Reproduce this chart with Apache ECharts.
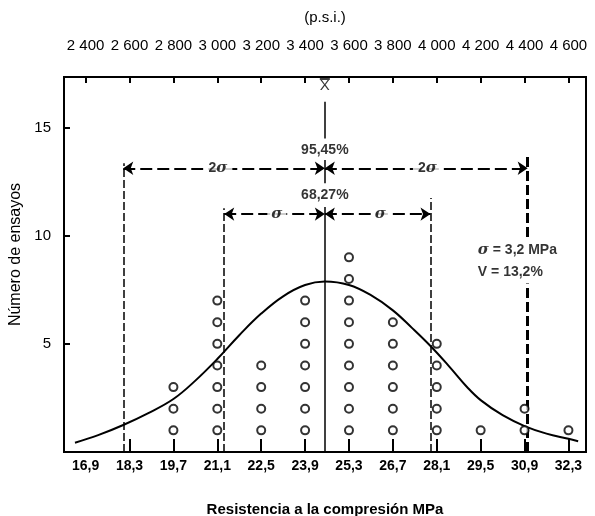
<!DOCTYPE html>
<html><head><meta charset="utf-8">
<script src="https://cdn.jsdelivr.net/npm/echarts@6/dist/echarts.min.js"></script>
<style>html,body{margin:0;padding:0;background:#fff}#c{width:595px;height:516px}</style>
</head><body><div id="c"></div>
<script>
// ---- data ----
const mpaTicks = [16.9, 18.3, 19.7, 21.1, 22.5, 23.9, 25.3, 26.7, 28.1, 29.5, 30.9, 32.3];
const mpaLabels = ['16,9','18,3','19,7','21,1','22,5','23,9','25,3','26,7','28,1','29,5','30,9','32,3'];
const mpaTickMarks = [18.3, 19.7, 21.1, 22.5, 23.9, 25.3, 26.7, 28.1, 29.5, 30.9, 32.3];
const psiTicks = [2400, 2600, 2800, 3000, 3200, 3400, 3600, 3800, 4000, 4200, 4400, 4600];
const psiLabels = ['2 400','2 600','2 800','3 000','3 200','3 400','3 600','3 800','4 000','4 200','4 400','4 600'];
const yTicks = [5, 10, 15];
const yLabels = ['5', '10', '15'];
const columnX = [19.7, 21.1, 22.5, 23.9, 25.3, 26.7, 28.1, 29.5, 30.9, 32.3];
const columnCounts = [3, 7, 4, 7, 9, 6, 5, 1, 2, 1];
const curveX = [16.56, 17.3, 18.1, 18.9, 19.7, 20.4, 21.1, 21.8, 22.5, 23.2, 23.9, 24.53, 25.3, 26.0, 26.7, 27.3, 27.9, 28.5, 29.1, 29.5, 30.2, 30.9, 31.6, 32.3, 32.61];
const curveY = [0.43, 0.78, 1.25, 1.8, 2.45, 3.3, 4.3, 5.4, 6.4, 7.2, 7.72, 7.88, 7.72, 7.25, 6.55, 5.75, 4.9, 3.95, 2.95, 2.4, 1.7, 1.2, 0.85, 0.61, 0.5];
const meanX = 24.53;
const sigmaLineX = [18.1, 21.32, 27.9, 31.0]; // -2s, -1s, +1s, +2s
const xMin = 16.21, xMax = 32.86, yMax = 17.34;

// ---- helpers ----
const psiOf = m => 2400 + (m - 16.9) * 200 / 1.4;
const lab = (vals, labels) => v => {
  let bi = 0; vals.forEach((t, i) => { if (Math.abs(t - v) < Math.abs(vals[bi] - v)) bi = i; });
  return labels[bi];
};
const FONT = 'Liberation Sans, Arial, Helvetica, sans-serif';

const circles = [];
columnX.forEach((x, i) => { for (let k = 1; k <= columnCounts[i]; k++) circles.push([x, k]); });
const curve = curveX.map((x, i) => [x, curveY[i]]);

const seg = (x1, y1, x2, y2, style) => [{coord: [x1, y1], lineStyle: style}, {coord: [x2, y2]}];
const SOLID = {type: 'solid', width: 1.5, color: '#000'};
const DASH_THIN = {type: [8, 3], width: 1.5, color: '#000'};
const DASH_THICK = {type: [10, 4], width: 3, color: '#000'};

const txt = (x, y, text, pos, pad) => ({
  value: [x, y],
  label: Object.assign({show: true, position: pos || 'inside', distance: 0, formatter: text},
    pad ? {backgroundColor: '#fff', padding: pad} : {})
});

const chart = echarts.init(document.getElementById('c'), null, {renderer: 'canvas'});
chart.setOption({
  animation: false,
  textStyle: {fontFamily: FONT, color: '#000'},
  grid: {left: 64, right: 9, top: 77, bottom: 64, show: true, borderColor: '#000', borderWidth: 2,
         containLabel: false, outerBoundsMode: 'none'},
  xAxis: [{
    type: 'value', min: xMin, max: xMax, position: 'bottom',
    axisLine: {show: true, lineStyle: {color: '#000', width: 2}},
    axisTick: {show: true, inside: true, length: 13, lineStyle: {color: '#000', width: 2}, customValues: mpaTickMarks},
    axisLabel: {customValues: mpaTicks, formatter: lab(mpaTicks, mpaLabels), margin: 7, fontSize: 14, fontWeight: 'bold', color: '#000', fontFamily: FONT},
    splitLine: {show: false},
    name: 'Resistencia a la compresión MPa', nameLocation: 'middle', nameGap: 50,
    nameTextStyle: {fontSize: 15, fontWeight: 'bold', color: '#000', fontFamily: FONT}
  }, {
    type: 'value', min: psiOf(xMin), max: psiOf(xMax), position: 'top',
    axisLine: {show: true, lineStyle: {color: '#000', width: 2}},
    axisTick: {show: true, inside: true, length: 6, lineStyle: {color: '#000', width: 2}, customValues: psiTicks},
    axisLabel: {customValues: psiTicks, formatter: lab(psiTicks, psiLabels), margin: 24, fontSize: 15, color: '#000', fontFamily: FONT},
    splitLine: {show: false},
    name: '(p.s.i.)', nameLocation: 'middle', nameGap: 52,
    nameTextStyle: {fontSize: 15, color: '#000', fontFamily: FONT}
  }],
  yAxis: {
    type: 'value', min: 0, max: yMax,
    axisLine: {show: true, lineStyle: {color: '#000', width: 2}},
    axisTick: {show: true, inside: true, length: 6, lineStyle: {color: '#000', width: 2}, customValues: yTicks},
    axisLabel: {customValues: yTicks, formatter: lab(yTicks, yLabels), margin: 13, fontSize: 15, color: '#000', fontFamily: FONT},
    splitLine: {show: false},
    name: 'Número de ensayos', nameLocation: 'middle', nameGap: 28, nameRotate: 90,
    nameTextStyle: {fontSize: 16, color: '#000', fontFamily: FONT, padding: [0, 0, 0, 20]}
  },
  series: [
    {
      name: 'curve', type: 'line', data: curve, smooth: 0.4, symbol: 'none',
      lineStyle: {color: '#000', width: 2}, z: 3,
      markLine: {
        silent: true, symbol: 'none', animation: false, label: {show: false},
        data: [
          seg(meanX, 0, meanX, 11.33, SOLID),
          seg(meanX, 12.43, meanX, 13.5, SOLID),
          seg(meanX, 14.5, meanX, 16.19, SOLID),
          seg(24.37, 17.27, 24.69, 17.27, SOLID),
          seg(sigmaLineX[0], 0, sigmaLineX[0], 13.35, DASH_THIN),
          seg(sigmaLineX[1], 0, sigmaLineX[1], 11.27, DASH_THIN),
          seg(sigmaLineX[2], 0, sigmaLineX[2], 11.74, DASH_THIN),
          seg(sigmaLineX[3], 0, sigmaLineX[3], 7.79, DASH_THICK),
          seg(sigmaLineX[3], 9.94, sigmaLineX[3], 13.65, DASH_THICK)
        ]
      }
    },
    {
      name: 'arrows', type: 'line', data: [], symbol: 'none',
      markLine: {
        silent: true, symbol: ['arrow', 'arrow'], symbolSize: 10, animation: false, label: {show: false},
        lineStyle: {type: [12, 5], width: 2, color: '#000'},
        data: [
          seg(sigmaLineX[0], 13.12, meanX, 13.12),
          seg(meanX, 13.12, sigmaLineX[3], 13.12),
          seg(sigmaLineX[1], 11.0, meanX, 11.0),
          seg(meanX, 11.0, sigmaLineX[2], 11.0)
        ]
      }
    },
    {
      name: 'ensayos', type: 'scatter', data: circles, symbol: 'circle', symbolSize: 8,
      itemStyle: {color: '#fff', borderColor: '#000', borderWidth: 2}, z: 5
    },
    {
      name: 'texts', type: 'scatter', symbolSize: 0, z: 6, silent: true,
      label: {
        show: true, color: '#000', fontFamily: FONT,
        rich: {
          s: {fontStyle: 'italic', fontWeight: 'bold', fontSize: 15, fontFamily: 'DejaVu Serif, serif', color: '#000'},
          b: {fontWeight: 'bold', fontSize: 14, color: '#000', fontFamily: FONT},
          n: {fontSize: 15, color: '#000', fontFamily: FONT}
        }
      },
      data: [
        txt(meanX, 16.93, '{n|X}'),
        txt(meanX, 13.96, '{b|95,45%}'),
        txt(meanX, 11.9, '{b|68,27%}'),
        txt(21.12, 13.12, '{b|2}{s|σ}', 'inside', [0, 5]),
        txt(27.8, 13.12, '{b|2}{s|σ}', 'inside', [0, 5]),
        txt(23.0, 11.0, '{s|σ}', 'inside', [0, 4]),
        txt(26.3, 11.0, '{s|σ}', 'inside', [0, 4]),
        txt(29.41, 9.32, '{s|σ}{b| = 3,2 MPa}', 'right'),
        txt(29.41, 8.32, '{b|V = 13,2%}', 'right')
      ]
    }
  ]
});
</script>
</body></html>
